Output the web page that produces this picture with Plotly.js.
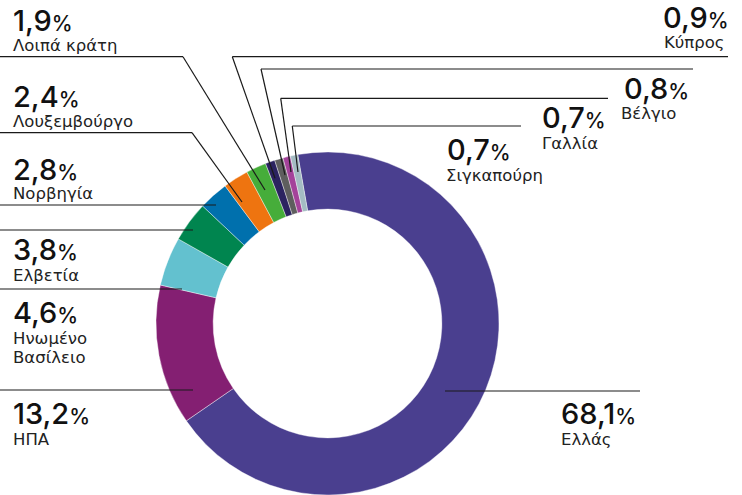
<!DOCTYPE html>
<html>
<head>
<meta charset="utf-8">
<script src="https://cdn.plot.ly/plotly-3.0.1.min.js"></script>
<style>html,body{margin:0;padding:0;background:#fff;}#chart{width:742px;height:495px;}</style>
</head>
<body>
<div id="chart"></div>
<script>
// ---- data ----
const countries = ["Ελλάς","ΗΠΑ","Ηνωμένο Βασίλειο","Ελβετία","Νορβηγία","Λουξεμβούργο","Λοιπά κράτη","Κύπρος","Βέλγιο","Γαλλία","Σιγκαπούρη"];
const shares = [68.1, 13.2, 4.6, 3.8, 2.8, 2.4, 1.9, 0.9, 0.8, 0.7, 0.7];
const valueLabels = ["68,1","13,2","4,6","3,8","2,8","2,4","1,9","0,9","0,8","0,7","0,7"];
const nameLines = [["Ελλάς"],["ΗΠΑ"],["Ηνωμένο","Βασίλειο"],["Ελβετία"],["Νορβηγία"],["Λουξεμβούργο"],["Λοιπά κράτη"],["Κύπρος"],["Βέλγιο"],["Γαλλία"],["Σιγκαπούρη"]];
const sliceColors = ["#4a3f8f","#841f72","#63c1cf","#00854f","#0070ad","#ee7410","#46ad3a","#2b2360","#5e5e5e","#a4429a","#a4bcc3"];

// ---- layout of callouts (pixels) ----
const W = 742, H = 495;
const callouts = [
  {anchor:"left",  vx:559, vy:413.5, nx:559, ny:439,  line:[[640,391],[445,391]]},
  {anchor:"left",  vx:11,  vy:413.5, nx:11,  ny:439,  line:[[0,390],[193,390]]},
  {anchor:"left",  vx:11,  vy:312.5, nx:11,  ny:338.5, ny2:357.5, line:[[0,289],[182,289]]},
  {anchor:"left",  vx:11,  vy:249.5, nx:11,  ny:275.5, line:[[0,230],[193,230]]},
  {anchor:"left",  vx:11,  vy:169.5, nx:11,  ny:193,  line:[[0,205],[216,205]]},
  {anchor:"left",  vx:11,  vy:96,    nx:11,  ny:121.5, line:[[0,132.7],[192,132.7],[242,202]]},
  {anchor:"left",  vx:11,  vy:20.5,  nx:11,  ny:45.5, line:[[0,56.7],[183,56.7],[265,190]]},
  {anchor:"right", vx:731, vy:17,    nx:727, ny:42.5, line:[[728,56.7],[232.3,56.7],[275,178.3]]},
  {anchor:"left",  vx:622, vy:88,    nx:619, ny:113,  line:[[693,69],[261,69],[285,175]]},
  {anchor:"left",  vx:540, vy:118,   nx:540, ny:143.5, line:[[608,98.3],[280.7,98.3],[291,172]]},
  {anchor:"left",  vx:445, vy:149.5, nx:444, ny:175.5, line:[[521,126],[292.3,126],[298,172]]}
];

const px = x => x / W;
const py = y => 1 - y / H;

const annotations = [];
const shapes = [];
callouts.forEach((c, i) => {
  annotations.push({
    xref:"paper", yref:"paper", x:px(c.vx), y:py(c.vy), xanchor:c.anchor, yanchor:"middle",
    showarrow:false, align:c.anchor,
    text: valueLabels[i] + "<span style='font-size:21px'>%</span>",
    font:{family:"Inter, Roboto, sans-serif", size:29, color:"#111", weight:500}
  });
  nameLines[i].forEach((t, k) => {
    annotations.push({
      xref:"paper", yref:"paper", x:px(c.nx), y:py(k === 0 ? c.ny : c.ny2), xanchor:c.anchor, yanchor:"middle",
      showarrow:false, align:c.anchor, text:t,
      font:{family:"DejaVu Sans, sans-serif", size:16.5, color:"#222"}
    });
  });
  for (let s = 0; s < c.line.length - 1; s++) {
    shapes.push({
      type:"line", xref:"paper", yref:"paper",
      x0:px(c.line[s][0]), y0:py(c.line[s][1]), x1:px(c.line[s+1][0]), y1:py(c.line[s+1][1]),
      line:{color:"#1a1a1a", width:1.2}
    });
  }
});

const trace = {
  type:"pie",
  values: shares,
  labels: countries,
  sort:false,
  direction:"clockwise",
  rotation:-10,
  hole:0.667,
  textinfo:"none",
  hoverinfo:"label+value",
  marker:{colors:sliceColors, line:{color:"#ffffff", width:0.4}},
  domain:{x:[156/W, 499/W], y:[0, 343/H]},
  showlegend:false
};

const layout = {
  width:W, height:H,
  margin:{l:0,r:0,t:0,b:0},
  paper_bgcolor:"#ffffff",
  plot_bgcolor:"#ffffff",
  showlegend:false,
  annotations: annotations,
  shapes: shapes
};

Plotly.newPlot("chart", [trace], layout, {displayModeBar:false, staticPlot:true});
</script>
</body>
</html>
